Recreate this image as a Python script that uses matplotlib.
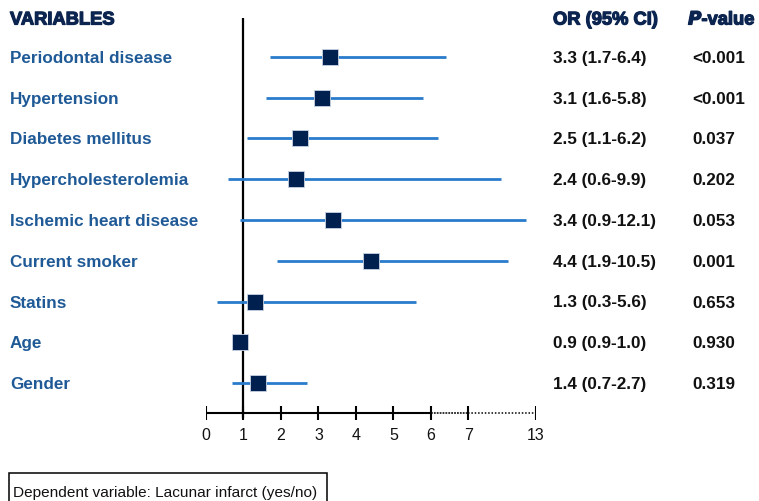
import matplotlib
matplotlib.use("Agg")
import matplotlib.pyplot as plt
import matplotlib.transforms as mtransforms
import matplotlib.patheffects as pe
from matplotlib.patches import Rectangle
import numpy as np

plt.rcParams['font.family'] = ['Liberation Sans', 'DejaVu Sans']

variables = ["Periodontal disease", "Hypertension", "Diabetes mellitus",
             "Hypercholesterolemia", "Ischemic heart disease", "Current smoker",
             "Statins", "Age", "Gender"]
odds_ratio = [3.3, 3.1, 2.5, 2.4, 3.4, 4.4, 1.3, 0.9, 1.4]
ci_low = [1.7, 1.6, 1.1, 0.6, 0.9, 1.9, 0.3, 0.9, 0.7]
ci_high = [6.4, 5.8, 6.2, 9.9, 12.1, 10.5, 5.6, 1.0, 2.7]
p_values = ["<0.001", "<0.001", "0.037", "0.202", "0.053", "0.001", "0.653", "0.930", "0.319"]
x_ticks = [0, 1, 2, 3, 4, 5, 6, 7, 13]

W, H, DPI = 759, 501, 100
fig = plt.figure(figsize=(W / DPI, H / DPI), dpi=DPI)

# Broken x scale: linear up to 7, compressed beyond
BREAK = 7.0
K = 0.3


def fwd(x):
    x = np.asarray(x, dtype=float)
    return np.where(x <= BREAK, x, BREAK + (x - BREAK) * K)


def inv(x):
    x = np.asarray(x, dtype=float)
    return np.where(x <= BREAK, x, BREAK + (x - BREAK) / K)


row_px0, row_step = 57.0, 40.75
x0_px, x13_px = 206.0, 535.7
ax = fig.add_axes([x0_px / W, 0, (x13_px - x0_px) / W, 1])
ax.set_xscale('function', functions=(fwd, inv))
ax.set_xlim(0, 13)
ax.set_ylim((H - row_px0) / row_step, -row_px0 / row_step)
ax.axis('off')

rows = np.arange(len(variables))
header_y = (18 - row_px0) / row_step
axis_y = (413 - row_px0) / row_step
tick_half = 7.0 / row_step
label_y = (436 - row_px0) / row_step

navy = "#00214f"
line_blue = "#2a7bcb"
label_blue = "#1f5a97"
head_blue = "#0b2550"

# Reference line at OR = 1
ax.plot([1, 1], [header_y, axis_y + 5 / row_step], color="black", lw=1.6,
        solid_capstyle='butt', zorder=1)

# Confidence intervals and point estimates
for i in rows:
    ax.plot([ci_low[i], ci_high[i]], [i, i], color=line_blue, lw=2,
            solid_capstyle='butt', zorder=2)
ax.plot(odds_ratio, rows, linestyle='none', marker='s', markersize=11,
        markerfacecolor=navy, markeredgecolor="#c8d4e4", markeredgewidth=0.6,
        zorder=3)

# Custom x axis
ax.plot([0, 6], [axis_y, axis_y], color="black", lw=1.5, solid_capstyle='butt')
ax.plot([6, 7], [axis_y, axis_y], color="#222222", lw=1.3, linestyle=(0, (1, 0.6)))
ax.plot([7, 13], [axis_y, axis_y], color="black", lw=1.1, linestyle=(0, (1, 1.2)))
for t in x_ticks:
    ax.plot([t, t], [axis_y - tick_half, axis_y + tick_half], color="black",
            lw=1.5, solid_capstyle='butt')
    ax.text(t, label_y, str(t), ha='center', va='center', fontsize=11.5,
            color="#111111")

# Text columns
tr = mtransforms.blended_transform_factory(fig.transFigure, ax.transData)
bold = dict(fontweight='bold', fontsize=12.3, va='center_baseline', transform=tr)
heavy = [pe.withStroke(linewidth=0.9, foreground=head_blue)]
head = dict(fontweight='bold', fontsize=13.2, va='center_baseline', transform=tr,
            color=head_blue, ha='left', path_effects=heavy)
ax.text(10 / W, header_y, "VARIABLES", **head)
ax.text(553 / W, header_y, "OR (95% CI)", **head)
ax.text(688 / W, header_y, r"$\bfit{P}$" + "-value", **head)

for i in rows:
    ax.text(10 / W, i, variables[i], color=label_blue, ha='left', **bold)
    ax.text(553 / W, i, f"{odds_ratio[i]:.1f} ({ci_low[i]:.1f}-{ci_high[i]:.1f})",
            color="#111111", ha='left', **bold)
    ax.text(692 / W, i, p_values[i], color="#111111", ha='left', **bold)

# Footnote box
fig.patches.append(Rectangle((9 / W, -0.02), (327 - 9) / W, 0.02 + (H - 473) / H,
                             transform=fig.transFigure, facecolor='white',
                             edgecolor='black', lw=1.1))
fig.text(13 / W, 1 - 497 / H, "Dependent variable: Lacunar infarct (yes/no)",
         fontsize=11.1, color="#111111", ha='left', va='baseline')

fig.savefig("out.png", dpi=DPI)
